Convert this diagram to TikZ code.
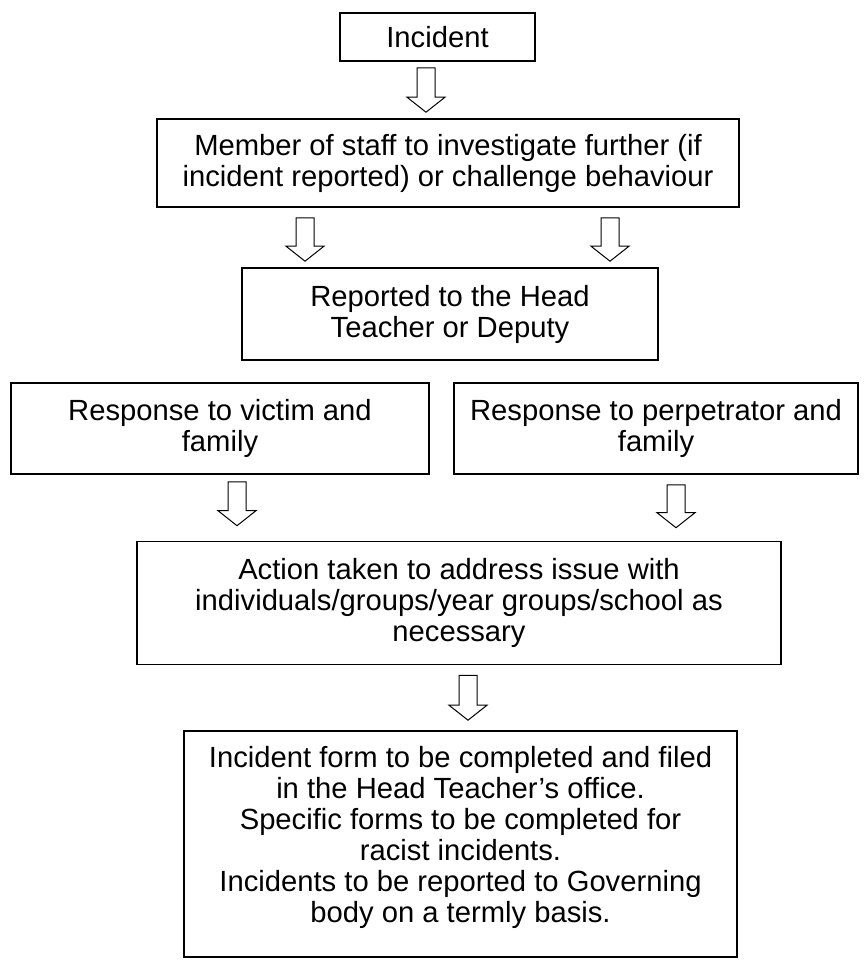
\documentclass[tikz,border=0pt]{standalone}
\usepackage{fontspec}
\setmainfont{Liberation Sans}
\usetikzlibrary{calc}

\tikzset{
  flowbox/.style={draw, line width=1.6pt, align=center, inner sep=0pt,
    font=\fontsize{29.2}{31}\selectfont},
  hollowarrow/.style={line width=1pt, to path={let \p1=(\tikztostart), \p2=(\tikztotarget) in
    (\x1-9pt,\y1) -- (\x1-9pt,\y2+15pt) -- (\x1-19pt,\y2+15pt) -- (\x1,\y2)
    -- (\x1+19pt,\y2+15pt) -- (\x1+9pt,\y2+15pt) -- (\x1+9pt,\y1) -- cycle}}
}

\begin{document}
\begin{tikzpicture}[x=1pt, y=-1pt]
			\useasboundingbox (0,0) rectangle (863,960);

			% Las cajas del diagrama
			\node[flowbox, minimum width=195pt, minimum height=48pt] (incident) at (437.5,37) {Incident};
			\node[flowbox, minimum width=582pt, minimum height=88pt] (staff) at (448,163)
				{Member of staff to investigate further (if\\incident reported) or challenge behaviour};
			\node[flowbox, minimum width=416pt, minimum height=92pt] (head) at (450,314)
				{Reported to the Head\\Teacher or Deputy};
			\node[flowbox, minimum width=418pt, minimum height=91pt] (victim) at (220,428.5)
				{Response to victim and\\family};
			\node[flowbox, minimum width=404pt, minimum height=91pt] (perp) at (656,428.5)
				{Response to perpetrator and\\family};
			\node[flowbox, minimum width=644pt, minimum height=123pt] (action) at (459,603)
				{Action taken to address issue with\\individuals/groups/year groups/school as\\necessary};
			\node[flowbox, text depth=20pt, minimum width=553pt, minimum height=226pt] (form) at (460.5,844)
				{Incident form to be completed and filed\\in the Head Teacher’s office.\\Specific forms to be completed for\\racist incidents.\\Incidents to be reported to Governing\\body on a termly basis.};

			% Las flechas huecas
			\draw[hollowarrow] ([xshift=-11.5pt,yshift=-6pt]incident.south) to ([yshift=6pt]staff.north);
			\draw[hollowarrow] ([xshift=-143pt,yshift=-10pt]staff.south) to ([yshift=6pt]head.north);
			\draw[hollowarrow] ([xshift=162pt,yshift=-10pt]staff.south) to ([yshift=6pt]head.north);
			\draw[hollowarrow] ([xshift=17pt,yshift=-7pt]victim.south) to ([yshift=15pt]action.north);
			\draw[hollowarrow] ([xshift=20pt,yshift=-10pt]perp.south) to ([yshift=13pt]action.north);
			\draw[hollowarrow] ([xshift=9pt,yshift=-10pt]action.south) to ([yshift=10pt]form.north);

		\end{tikzpicture}
\end{document}
